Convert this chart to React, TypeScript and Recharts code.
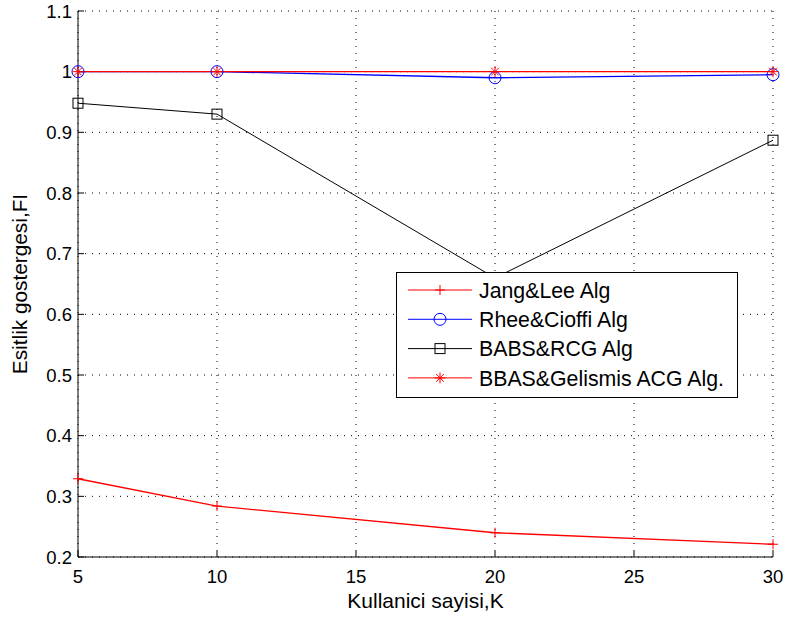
import React from "react"
import { LineChart, Line, XAxis, YAxis, CartesianGrid, Legend } from "recharts"

// Number of users (K) at which each algorithm was measured
const kValues = [5, 10, 20, 30]

// Fairness index (FI) per algorithm
const jangLee = [0.329, 0.284, 0.24, 0.221]
const rheeCioffi = [1.0, 1.0, 0.99, 0.995]
const babsRcg = [0.948, 0.93, 0.66, 0.887]
const bbasAcg = [1.0, 1.0, 1.0, 1.0]

const xTicks = [5, 10, 15, 20, 25, 30]
const yTicks = [0.2, 0.3, 0.4, 0.5, 0.6, 0.7, 0.8, 0.9, 1.0, 1.1]

const seriesNames = ["Jang&Lee Alg", "Rhee&Cioffi Alg", "BABS&RCG Alg", "BBAS&Gelismis ACG Alg."]
const seriesKeys = ["jang", "rhee", "babs", "bbas"]
const seriesColors = ["#ff0000", "#0000ff", "#000000", "#ff0000"]
const seriesMarkers = ["plus", "circle", "square", "star"]

const data = kValues.map((k, i) => ({
  k,
  jang: jangLee[i],
  rhee: rheeCioffi[i],
  babs: babsRcg[i],
  bbas: bbasAcg[i],
}))

const FONT = '"Liberation Sans", Arial, Helvetica, sans-serif'

function Marker({ type, cx, cy, color }: { type: string; cx: number; cy: number; color: string }) {
  if (type === "plus") {
    return (
      <g stroke={color} strokeWidth={1}>
        <line x1={cx - 5} y1={cy} x2={cx + 5} y2={cy} />
        <line x1={cx} y1={cy - 5} x2={cx} y2={cy + 5} />
      </g>
    )
  }
  if (type === "circle") {
    return <circle cx={cx} cy={cy} r={6} fill="none" stroke={color} strokeWidth={1} />
  }
  if (type === "square") {
    return <rect x={cx - 5} y={cy - 5} width={10} height={10} fill="none" stroke={color} strokeWidth={1} />
  }
  // asterisk
  const r = 5.5
  return (
    <g stroke={color} strokeWidth={1}>
      {[0, 45, 90, 135].map((a) => {
        const dx = Math.cos((a * Math.PI) / 180) * r
        const dy = Math.sin((a * Math.PI) / 180) * r
        return <line key={a} x1={cx - dx} y1={cy - dy} x2={cx + dx} y2={cy + dy} />
      })}
    </g>
  )
}

const makeDot = (type: string, color: string) => (props: any) => {
  const { cx, cy, index } = props
  if (cx == null || cy == null) return <g key={index} />
  return (
    <g key={index}>
      <Marker type={type} cx={cx} cy={cy} color={color} />
    </g>
  )
}

function LegendBox() {
  return (
    <svg width={342} height={126} style={{ display: "block", fontFamily: FONT }}>
      <rect x={0.5} y={0.5} width={341} height={125} fill="#fff" stroke="#000" strokeWidth={1} />
      {seriesNames.map((name, i) => {
        const cy = 18 + i * 29.3
        return (
          <g key={name}>
            <line x1={12} y1={cy} x2={76} y2={cy} stroke={seriesColors[i]} strokeWidth={1} />
            <Marker type={seriesMarkers[i]} cx={44} cy={cy} color={seriesColors[i]} />
            <text x={83} y={cy} dy="0.36em" fontSize={21.3} fill="#000">
              {name}
            </text>
          </g>
        )
      })}
    </svg>
  )
}

const fmtY = (v: number) => String(Math.round(v * 10) / 10)

export default function App() {
  return (
    <div style={{ position: "absolute", left: 0, top: 0, width: 787, height: 619, background: "#fff", fontFamily: FONT }}>
      <LineChart width={787} height={619} data={data} margin={{ top: 11, right: 14, bottom: 0, left: 0 }}>
        <CartesianGrid stroke="#000" strokeDasharray="1 6" strokeWidth={1} />
        <XAxis
          dataKey="k"
          type="number"
          domain={[5, 30]}
          ticks={xTicks}
          height={62}
          tickSize={-6}
          tickMargin={19}
          stroke="#000"
          axisLine={{ stroke: "#000" }}
          tickLine={{ stroke: "#000" }}
          tick={{ fill: "#000", fontSize: 18.5 }}
          label={{ value: "Kullanici sayisi,K", position: "insideBottom", offset: 11, fill: "#000", fontSize: 21 }}
        />
        <XAxis
          xAxisId="top"
          orientation="top"
          dataKey="k"
          type="number"
          domain={[5, 30]}
          ticks={xTicks}
          height={0}
          tickSize={-6}
          stroke="#000"
          tickFormatter={() => ""}
        />
        <YAxis
          type="number"
          domain={[0.2, 1.1]}
          ticks={yTicks}
          width={78}
          tickSize={-6}
          tickMargin={12}
          stroke="#000"
          axisLine={{ stroke: "#000" }}
          tickLine={{ stroke: "#000" }}
          tick={{ fill: "#000", fontSize: 18.5 }}
          tickFormatter={fmtY}
          label={{
            value: "Esitlik gostergesi,FI",
            angle: -90,
            position: "insideLeft",
            offset: 20,
            fill: "#000",
            fontSize: 20.8,
            style: { textAnchor: "middle" },
          }}
        />
        <YAxis
          yAxisId="right"
          orientation="right"
          type="number"
          domain={[0.2, 1.1]}
          ticks={yTicks}
          width={0}
          tickSize={-6}
          stroke="#000"
          tickFormatter={() => ""}
        />
        {seriesKeys.map((key, i) => (
          <Line
            key={key}
            type="linear"
            dataKey={key}
            name={seriesNames[i]}
            stroke={seriesColors[i]}
            strokeWidth={i === 2 ? 1 : 1.3}
            dot={makeDot(seriesMarkers[i], seriesColors[i])}
            activeDot={false}
            isAnimationActive={false}
          />
        ))}
        <Legend
          layout="horizontal"
          verticalAlign="middle"
          align="center"
          wrapperStyle={{ left: 396, top: 272, width: 342, height: 126 }}
          content={() => <LegendBox />}
        />
      </LineChart>
    </div>
  )
}
